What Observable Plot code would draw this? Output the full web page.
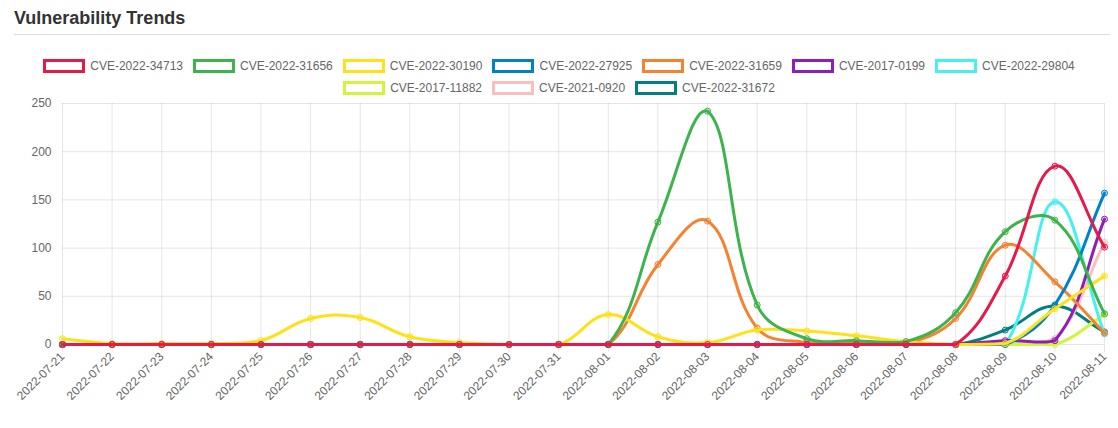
<!DOCTYPE html>
<html><head><meta charset="utf-8">
<script src="https://cdn.jsdelivr.net/npm/d3@7"></script>
<script src="https://cdn.jsdelivr.net/npm/@observablehq/plot@0.6"></script>
<style>
body{margin:0;background:#fff;font-family:"Liberation Sans",Arial,sans-serif;}
#wrap{position:relative;width:1118px;height:428px;overflow:hidden;background:#fff;}
#title{position:absolute;left:14px;top:8px;font-size:18px;line-height:20px;font-weight:bold;color:#333;}
#rule{position:absolute;left:14px;top:34px;width:1096px;height:1px;background:#ddd;}
.row{position:absolute;left:0;width:1118px;display:flex;justify-content:center;height:14px;}
.item{display:flex;align-items:center;margin:0 5px;font-size:12px;line-height:14px;color:#666;white-space:nowrap;}
.box{width:42px;height:14px;box-sizing:border-box;border:3px solid;background:#fff;margin-right:5px;}
#chart{position:absolute;left:0;top:95px;}
</style>
</head><body>
<div id="wrap">
  <div id="title">Vulnerability Trends</div>
  <div id="rule"></div>
  <div class="row" id="row1" style="top:59px"></div>
  <div class="row" id="row2" style="top:81px"></div>
  <div id="chart"></div>
</div>
<script>
const dates = ["2022-07-21","2022-07-22","2022-07-23","2022-07-24","2022-07-25","2022-07-26","2022-07-27","2022-07-28","2022-07-29","2022-07-30","2022-07-31","2022-08-01","2022-08-02","2022-08-03","2022-08-04","2022-08-05","2022-08-06","2022-08-07","2022-08-08","2022-08-09","2022-08-10","2022-08-11"];
const names = ["CVE-2022-34713","CVE-2022-31656","CVE-2022-30190","CVE-2022-27925","CVE-2022-31659","CVE-2017-0199","CVE-2022-29804","CVE-2017-11882","CVE-2021-0920","CVE-2022-31672"];
const colors = ["#e6194b","#3cb44b","#ffe119","#0082c8","#f58231","#911eb4","#46f0f0","#d2f53c","#fabebe","#008080"];
const yTicks = [0,50,100,150,200,250];

const cve_2022_34713 = [0,0,0,0,0,0,0,0,0,0,0,0,0,0,0,0,0,0,0,71,185,101];
const cve_2022_31656 = [0,0,0,0,0,0,0,0,0,0,0,0,127,242,41,6,4,3,33,117,129,32];
const cve_2022_30190 = [6,1,1,1,4,27,28,8,2,0,0,31,8,2,15,14,9,3,0,1,37,71];
const cve_2022_27925 = [0,0,0,0,0,0,0,0,0,0,0,0,0,0,0,0,0,0,0,0,41,157];
const cve_2022_31659 = [0,0,0,0,0,0,0,0,0,0,0,0,83,128,17,2,1,1,27,103,65,12];
const cve_2017_0199  = [0,0,0,0,0,0,0,0,0,0,0,0,0,0,0,0,0,0,0,4,4,130];
const cve_2022_29804 = [0,0,0,0,0,0,0,0,0,0,0,0,0,0,0,0,0,0,0,0,148,11];
const cve_2017_11882 = [0,0,0,0,0,0,0,0,0,0,0,0,0,0,0,0,0,0,0,0,0,31];
const cve_2021_0920  = [0,0,0,0,0,0,0,0,0,0,0,0,0,0,0,0,0,0,0,0,6,106];
const cve_2022_31672 = [0,0,0,0,0,0,0,0,0,0,0,0,0,0,0,0,0,0,0,15,40,13];

const seriesValues = [cve_2022_34713,cve_2022_31656,cve_2022_30190,cve_2022_27925,cve_2022_31659,cve_2017_0199,cve_2022_29804,cve_2017_11882,cve_2021_0920,cve_2022_31672];

// legend
const rows1 = names.slice(0,7), rows2 = names.slice(7);
function fillRow(el, list){
  list.forEach(n=>{
    const i = names.indexOf(n);
    const it = document.createElement("div"); it.className="item";
    const b = document.createElement("div"); b.className="box"; b.style.borderColor = colors[i];
    const t = document.createElement("span"); t.textContent = n;
    it.appendChild(b); it.appendChild(t); el.appendChild(it);
  });
}
fillRow(document.getElementById("row1"), rows1);
fillRow(document.getElementById("row2"), rows2);

const W = 1118, H = 333, MT = 8, MB = 84, ML = 62, MR = 14;
const T = MT, B = H - MB, L = ML, R = W - MR;

function chartjsCurve(context){
  let pts = [];
  const cl = (v,lo,hi)=>Math.max(lo,Math.min(hi,v));
  return {
    areaStart(){}, areaEnd(){},
    lineStart(){ pts = []; },
    point(x,y){ pts.push([+x,+y]); },
    lineEnd(){
      const n = pts.length; if(!n) return;
      const t = 0.4;
      const cp = pts.map((p,i)=>{
        const a = pts[i>0?i-1:i], b = pts[i<n-1?i+1:i];
        const d01 = Math.hypot(p[0]-a[0],p[1]-a[1]), d12 = Math.hypot(b[0]-p[0],b[1]-p[1]);
        let s01 = d01/(d01+d12), s12 = d12/(d01+d12);
        if(!isFinite(s01)) s01 = 0; if(!isFinite(s12)) s12 = 0;
        const fa = t*s01, fb = t*s12;
        return {
          px: cl(p[0]-fa*(b[0]-a[0]),L,R), py: cl(p[1]-fa*(b[1]-a[1]),T,B),
          nx: cl(p[0]+fb*(b[0]-a[0]),L,R), ny: cl(p[1]+fb*(b[1]-a[1]),T,B)
        };
      });
      context.moveTo(pts[0][0],pts[0][1]);
      for(let i=1;i<n;i++) context.bezierCurveTo(cp[i-1].nx,cp[i-1].ny,cp[i].px,cp[i].py,pts[i][0],pts[i][1]);
    }
  };
}

const rowsData = names.map((n,i)=>dates.map((d,j)=>({date:d, name:n, value:seriesValues[i][j]})));

const marks = [
  Plot.gridY({ticks: yTicks, stroke:"#000", strokeOpacity:0.1}),
  Plot.axisX({tickRotate:-45, tickSize:8, tickPadding:2, stroke:"#000", strokeOpacity:0.1, fill:"#666", fontSize:12, label:null}),
  Plot.ruleX(dates, {stroke:"#000", strokeOpacity:0.1}),
  Plot.axisY({ticks: yTicks, tickSize:0, tickPadding:11, fill:"#666", fontSize:12, label:null})
];
for(let i=names.length-1;i>=0;i--){
  marks.push(Plot.line(rowsData[i], {x:"date", y:"value", stroke:"name", strokeWidth:3, curve: chartjsCurve}));
  marks.push(Plot.dot(rowsData[i], {x:"date", y:"value", r:3, stroke:"name", fill:"name", fillOpacity:0.2, strokeWidth:1}));
}

const chart = Plot.plot({
  width: W, height: H,
  marginTop: MT, marginBottom: MB, marginLeft: ML, marginRight: MR,
  style: {fontFamily:'"Liberation Sans", Arial, sans-serif', fontSize:"12px", color:"#666", background:"#fff"},
  x: {type:"point", domain: dates, padding: 0, round: false},
  y: {domain:[0,250]},
  color: {domain: names, range: colors},
  marks
});
document.getElementById("chart").appendChild(chart);
</script>
</body></html>
